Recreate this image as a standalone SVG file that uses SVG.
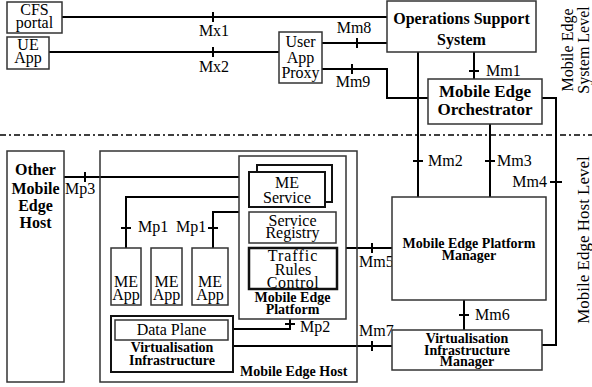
<svg xmlns="http://www.w3.org/2000/svg" width="592" height="387" viewBox="0 0 592 387">
  <style>
    text { font-family: "Liberation Serif", serif; fill: #000; }
    .lbl { font-size: 16px; }
    .b14 { font-size: 14px; font-weight: bold; }
    .b16 { font-size: 16px; font-weight: bold; }
    .m { text-anchor: middle; }
    .box { fill: #fff; stroke: #333; stroke-width: 1.5; }
    .frame { fill: none; stroke: #333; stroke-width: 1.5; }
    .thick { fill: #fff; stroke: #111; stroke-width: 2; }
    .wire { fill: none; stroke: #000; stroke-width: 2; }
    .level { fill: none; stroke: #000; stroke-width: 1.5; stroke-dasharray: 6 3 2 3; }
  </style>
  <rect width="592" height="387" fill="#fff"/>

  <!-- level separator -->
  <line class="level" x1="0" y1="135" x2="592" y2="135"/>

  <!-- connectors -->
  <g id="connectors">
    <path class="wire" d="M62 17 H387"/>
    <path class="wire" d="M49 52 H279"/>
    <path class="wire" d="M322 43 H387"/>
    <path class="wire" d="M322 69 H387 V98 H428"/>
    <path class="wire" d="M474 52 V79"/>
    <path class="wire" d="M418 52 V197"/>
    <path class="wire" d="M490 124 V197"/>
    <path class="wire" d="M542 98 H556 V345 H542"/>
    <path class="wire" d="M464 300 V330"/>
    <path class="wire" d="M346 248 H392"/>
    <path class="wire" d="M233 346 H392"/>
    <path class="wire" d="M64 177 H239"/>
    <path class="wire" d="M239 197 H126 V248"/>
    <path class="wire" d="M239 212 H213 V248"/>
    <path class="wire" d="M228 329 H290 V319"/>
    <!-- reference point ticks -->
    <path class="wire" d="M213 12 V22 M213 47 V57 M357 38 V48 M352 64 V74 M469 71 H479 M413 161 H423 M485 161 H495 M550 182 H562 M459 315 H469 M372 243 V253 M372 341 V351 M85 172 V182 M121 228 H131 M208 228 H218 M285 324 H295"/>
    <text class="lbl m" x="214" y="36">Mx1</text>
    <text class="lbl m" x="214" y="72">Mx2</text>
    <text class="lbl m" x="354" y="33">Mm8</text>
    <text class="lbl m" x="353" y="87">Mm9</text>
    <text class="lbl" x="486" y="76">Mm1</text>
    <text class="lbl" x="428" y="166">Mm2</text>
    <text class="lbl" x="497" y="166">Mm3</text>
    <text class="lbl" x="547" y="187" text-anchor="end">Mm4</text>
    <text class="lbl" x="359" y="267">Mm5</text>
    <text class="lbl" x="475" y="320">Mm6</text>
    <text class="lbl" x="359" y="336">Mm7</text>
    <text class="lbl" x="65" y="194">Mp3</text>
    <text class="lbl" x="138" y="232">Mp1</text>
    <text class="lbl" x="176" y="232">Mp1</text>
    <text class="lbl" x="300" y="332">Mp2</text>
  </g>

  <g id="cfs-portal">
    <rect class="box" x="7" y="2" width="55" height="31"/>
    <text class="lbl m" x="34.5" y="15">CFS</text>
    <text class="lbl m" x="34.5" y="28">portal</text>
  </g>

  <g id="ue-app">
    <rect class="box" x="7" y="37" width="42" height="32"/>
    <text class="lbl m" x="28" y="50">UE</text>
    <text class="lbl m" x="28" y="63">App</text>
  </g>

  <g id="user-app-proxy">
    <rect class="box" x="279" y="32" width="43" height="51"/>
    <text class="lbl m" x="300.5" y="47">User</text>
    <text class="lbl m" x="300.5" y="63">App</text>
    <text class="lbl m" x="300.5" y="78">Proxy</text>
  </g>

  <g id="oss">
    <rect class="box" x="387" y="1" width="149" height="51"/>
    <text class="b16 m" x="461.5" y="24" font-size="16.5">Operations Support</text>
    <text class="b16 m" x="461.5" y="45" font-size="16.5">System</text>
  </g>

  <g id="orchestrator">
    <rect class="box" x="428" y="79" width="114" height="45"/>
    <text class="b16 m" x="485" y="97" style="font-size:17px">Mobile Edge</text>
    <text class="b16 m" x="485" y="115" style="font-size:17px">Orchestrator</text>
  </g>

  <g id="system-level-caption">
    <text class="lbl m" transform="translate(573 50) rotate(-90)">Mobile Edge</text>
    <text class="lbl m" transform="translate(589 50) rotate(-90)">System Level</text>
  </g>

  <g id="host-level-caption">
    <text class="lbl m" transform="translate(589 240) rotate(-90)" style="font-size:17px">Mobile Edge Host Level</text>
  </g>

  <g id="other-host">
    <rect class="box" x="7" y="151" width="57" height="231"/>
    <text class="b16 m" x="35.5" y="175">Other</text>
    <text class="b16 m" x="35.5" y="194">Mobile</text>
    <text class="b16 m" x="35.5" y="211">Edge</text>
    <text class="b16 m" x="35.5" y="228">Host</text>
  </g>

  <g id="me-host">
    <rect class="frame" x="100" y="151" width="257" height="231"/>
    <text class="b14" x="240" y="376">Mobile Edge Host</text>
  </g>

  <g id="me-platform">
    <rect class="box" x="239" y="156" width="107" height="163"/>
    <text class="b14 m" x="292.5" y="302">Mobile Edge</text>
    <text class="b14 m" x="292.5" y="314">Platform</text>
  </g>

  <g id="me-service">
    <rect class="thick" x="257" y="165" width="75" height="37"/>
    <rect class="thick" x="249" y="172" width="76" height="35"/>
    <text class="lbl m" x="287" y="188">ME</text>
    <text class="lbl m" x="287" y="203">Service</text>
  </g>

  <g id="service-registry">
    <rect class="box" x="249" y="212" width="87" height="31"/>
    <text class="lbl m" x="292.5" y="226">Service</text>
    <text class="lbl m" x="292.5" y="238">Registry</text>
  </g>

  <g id="traffic-rules">
    <rect class="thick" x="249" y="248" width="88" height="41" style="stroke-width:2.5"/>
    <text class="lbl m" x="293" y="261" letter-spacing="1">Traffic</text>
    <text class="lbl m" x="293" y="275">Rules</text>
    <text class="lbl m" x="293" y="288" letter-spacing="0.5">Control</text>
  </g>

  <g id="me-app-1">
    <rect class="box" x="111" y="248" width="30" height="57"/>
    <text class="lbl m" x="126" y="287">ME</text>
    <text class="lbl m" x="126" y="300">App</text>
  </g>
  <g id="me-app-2">
    <rect class="box" x="151" y="248" width="31" height="57"/>
    <text class="lbl m" x="166.5" y="287">ME</text>
    <text class="lbl m" x="166.5" y="300">App</text>
  </g>
  <g id="me-app-3">
    <rect class="box" x="192" y="248" width="36" height="57"/>
    <text class="lbl m" x="210" y="287">ME</text>
    <text class="lbl m" x="210" y="300">App</text>
  </g>

  <g id="virtualisation-infrastructure">
    <rect class="thick" x="111" y="316" width="122" height="56"/>
    <rect class="box" x="115" y="320" width="113" height="20"/>
    <text class="lbl m" x="171.5" y="335">Data Plane</text>
    <text class="b14 m" x="172" y="352">Virtualisation</text>
    <text class="b14 m" x="172" y="365">Infrastructure</text>
  </g>

  <g id="mepm">
    <rect class="box" x="392" y="197" width="154" height="103"/>
    <text class="b14 m" x="469" y="248">Mobile Edge Platform</text>
    <text class="b14 m" x="469" y="260">Manager</text>
  </g>

  <g id="vim">
    <rect class="box" x="392" y="330" width="150" height="40"/>
    <text class="b14 m" x="467" y="343">Virtualisation</text>
    <text class="b14 m" x="467" y="355">Infrastructure</text>
    <text class="b14 m" x="467" y="366">Manager</text>
  </g>
</svg>
